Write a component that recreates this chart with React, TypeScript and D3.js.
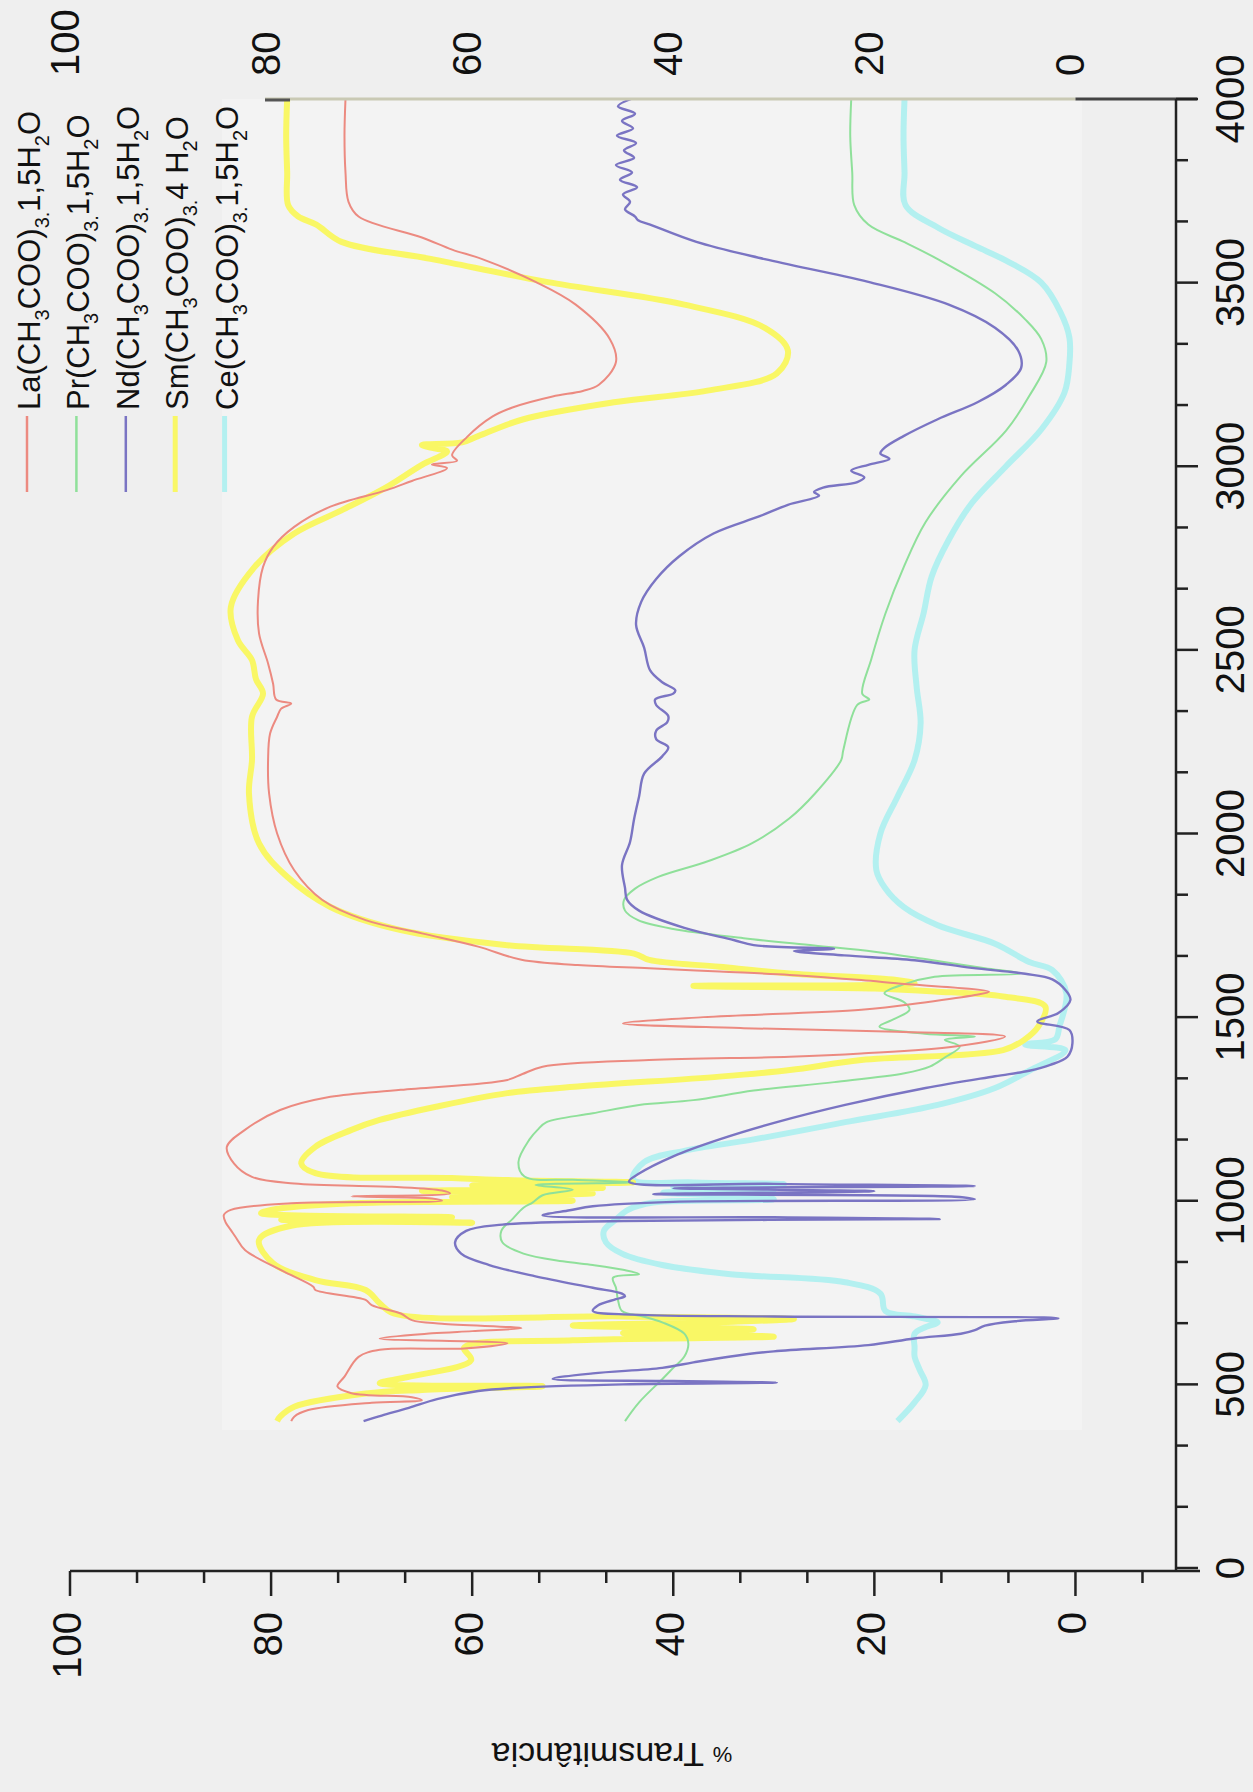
import { useRef, useEffect } from 'react';
import * as d3 from 'd3';

type Pt = [number, number]; // [wavenumber (cm-1), % transmittance]

const WIDTH = 1253;
const HEIGHT = 1792;

const laData: Pt[] = [
  [4000, 72.6], [3900, 72.7], [3800, 72.6], [3720, 72.3], [3680, 71.3], [3623, 65], [3590, 62], [3564, 59],
  [3502, 53.7], [3440, 49.7], [3346, 46.3], [3284, 45.7], [3222, 47.4], [3205, 49], [3190, 52], [3160, 56],
  [3135, 58], [3080, 60.5], [3030, 62], [3015, 61.5], [3005, 64], [2995, 62.5], [2960, 66], [2935, 68.5],
  [2890, 74.1], [2835, 77.7], [2780, 79.8], [2726, 80.8], [2635, 81.3], [2545, 81.2], [2463, 80.3], [2408, 79.8],
  [2365, 79.5], [2354, 78], [2340, 79], [2318, 79.4], [2272, 80.1], [2200, 80.3], [2109, 80.2], [2000, 79.4],
  [1900, 77.7], [1819, 74.9], [1764, 70.6], [1728, 65], [1692, 59.4], [1656, 55.1], [1642, 49.5], [1633, 42.4],
  [1624, 35.4], [1615, 28.4], [1601, 21.3], [1592, 17.8], [1569, 8.6], [1560, 10], [1540, 15], [1520, 21.3],
  [1500, 37], [1483, 45], [1470, 33], [1460, 17.8], [1447, 7], [1420, 12], [1401, 21.3], [1392, 28.4],
  [1383, 42.4], [1365, 53], [1345, 55], [1329, 56.5], [1302, 67.1], [1283, 74.1], [1247, 79.1], [1193, 82.6],
  [1147, 84.4], [1102, 83.7], [1065, 81.9], [1047, 77.7], [1038, 68], [1028, 63], [1020, 62.2], [1012, 72],
  [1006, 64], [1000, 63], [993, 78], [975, 84], [961, 84.7], [940, 84.5], [920, 84], [900, 83.5], [866, 82.6],
  [811, 79], [766, 75.8], [757, 75.6], [730, 70.6], [716, 70], [693, 67.1], [675, 66], [665, 63], [653, 55.1],
  [645, 60], [639, 64], [625, 69.2], [612, 56.5], [598, 60.8], [594, 69.2], [575, 71.3], [521, 72.7],
  [494, 73.4], [476, 72], [465, 66], [457, 65], [450, 70], [430, 76.3], [412, 77.7], [400, 78],
];

const prData: Pt[] = [
  [4000, 22.3], [3900, 22.4], [3800, 22.2], [3711, 22], [3658, 20.6], [3610, 17], [3564, 13.7], [3471, 8],
  [3400, 5], [3346, 3.4], [3284, 2.9], [3191, 4.6], [3097, 6.9], [2973, 11.4], [2848, 14.9], [2724, 17.1],
  [2599, 18.9], [2475, 20.3], [2380, 21.2], [2365, 20.5], [2350, 21.7], [2226, 23.1], [2200, 23.3], [2109, 25.9],
  [2040, 28.5], [1973, 32.2], [1925, 36.5], [1882, 41.5], [1850, 43.8], [1819, 44.9], [1790, 44.8], [1764, 43.5],
  [1740, 40], [1715, 33], [1695, 26], [1678, 20], [1656, 14.5], [1633, 9], [1619, 5.5], [1610, 14], [1590, 17],
  [1565, 19], [1540, 17], [1520, 16.5], [1495, 18], [1474, 19.5], [1455, 15], [1447, 10], [1438, 13],
  [1420, 11.5], [1390, 13], [1365, 14.5], [1347, 17], [1323, 24], [1300, 32], [1274, 38], [1261, 43.4],
  [1238, 48], [1214, 52.6], [1193, 53.5], [1167, 54.3], [1105, 55.4], [1066, 54.8], [1057, 50], [1050, 44],
  [1043, 53.7], [1030, 50], [1015, 53], [995, 54], [981, 54.9], [950, 56], [918, 57.1], [887, 57], [856, 54.9],
  [835, 51], [825, 48], [812, 45], [800, 43.4], [790, 46], [763, 45.7], [730, 45.5], [700, 45.1], [685, 43],
  [669, 41.1], [638, 38.9], [610, 38.5], [576, 38.9], [545, 40], [514, 41.1], [451, 43.4], [400, 44.8],
];

const ndData: Pt[] = [
  [4000, 44.2], [3980, 45.5], [3960, 43.8], [3940, 45.1], [3920, 44], [3900, 45.6], [3880, 43.7], [3860, 44.9],
  [3840, 43.9], [3820, 45.7], [3800, 44.1], [3780, 45.3], [3760, 43.6], [3740, 45], [3720, 44.3], [3700, 44.8],
  [3680, 43.8], [3670, 43.5], [3658, 42.3], [3611, 37.7], [3564, 30.9], [3502, 20.6],
  [3440, 12.6], [3377, 8], [3315, 5.7], [3268, 5.4], [3222, 6.9], [3175, 9.7], [3128, 13.7], [3082, 17.1],
  [3050, 19], [3035, 19.4], [3020, 18.5], [3004, 20.6], [2988, 22.3], [2970, 21], [2957, 21.7], [2942, 25.1],
  [2930, 26], [2920, 25.5], [2895, 28.6], [2864, 31.4], [2817, 36], [2755, 39.4], [2693, 41.7], [2630, 43.2],
  [2568, 43.7], [2506, 42.9], [2444, 42.3], [2412, 41.1], [2390, 39.8], [2381, 40], [2365, 41.8], [2350, 41.7],
  [2320, 40.5], [2303, 40.6], [2280, 41.7], [2257, 41.7], [2235, 40.5], [2210, 41.1], [2163, 42.9], [2101, 43.4],
  [2039, 43.9], [1977, 44.3], [1914, 45.1], [1852, 44.8], [1820, 44.6], [1790, 43.4], [1743, 38.9], [1710, 34],
  [1696, 32], [1686, 24], [1680, 28], [1668, 23], [1655, 16], [1634, 10.3], [1618, 5], [1603, 2.3], [1574, 1],
  [1547, 0.5], [1511, 1.7], [1488, 3.8], [1465, 0.6], [1429, 0.3], [1392, 0.8], [1370, 2.5], [1354, 4.6],
  [1339, 8], [1307, 14.9], [1261, 22.9], [1214, 29.7], [1167, 35.4], [1121, 40], [1074, 43.4], [1052, 44.4],
  [1046, 30], [1040, 10], [1034, 40], [1026, 20], [1018, 42], [1011, 12], [1004, 10], [997, 40], [985, 48],
  [974, 50.3], [960, 53], [955, 30], [950, 13.5], [945, 45], [935, 57], [918, 60.6], [887, 61.7], [856, 61.1],
  [825, 58.3], [794, 53.7], [763, 48], [747, 45.1], [740, 44.8], [732, 45.7], [715, 47.5], [700, 48], [690, 44],
  [685, 30], [680, 1.7], [672, 6], [660, 9], [648, 10], [638, 11.4], [625, 16], [607, 20.6], [590, 30],
  [576, 34.3], [560, 38], [545, 41.1], [530, 48], [515, 52], [509, 40], [505, 29.7], [500, 45], [490, 56],
  [482, 59.4], [460, 63.5], [436, 66.3], [415, 69], [400, 70.8],
];

const smData: Pt[] = [
  [4000, 78.4], [3900, 78.5], [3800, 78.4], [3711, 78.3], [3680, 77.3], [3658, 75.5], [3611, 73], [3564, 64],
  [3502, 52.6], [3440, 38.9], [3377, 30.9], [3315, 28.6], [3253, 29.7], [3206, 36.6], [3175, 45.7], [3128, 54.9],
  [3082, 59.4], [3065, 61], [3058, 65], [3050, 64], [3040, 62.5], [3004, 65], [2942, 68.6], [2880, 73],
  [2817, 77.7], [2724, 81.7], [2617, 84], [2526, 83.3], [2472, 81.9], [2420, 81.5], [2381, 80.8], [2318, 81.9],
  [2200, 81.9], [2109, 82.2], [1973, 81.2], [1882, 78.4], [1800, 74.1], [1737, 67.1], [1696, 56.5], [1673, 43.9],
  [1656, 42.4], [1637, 35.4], [1619, 28.4], [1601, 17.8], [1592, 16], [1585, 38], [1578, 20], [1570, 14],
  [1556, 7.2], [1529, 3], [1474, 3.7], [1438, 5.1], [1410, 7.2], [1383, 21.3], [1356, 28.4], [1338, 35.4],
  [1311, 49.5], [1293, 56.5], [1256, 63.6], [1220, 69.2], [1193, 72], [1147, 75.6], [1102, 77], [1075, 75.6],
  [1062, 62], [1056, 56], [1050, 44], [1042, 60], [1035, 47], [1027, 65], [1020, 48], [1010, 62], [1000, 50],
  [993, 72], [975, 80], [966, 81], [955, 62], [948, 79], [940, 60], [932, 78], [893, 81.2], [830, 79.8],
  [784, 75.6], [757, 70.6], [721, 69.2], [693, 67.8], [685, 45], [678, 28], [670, 35], [660, 50], [650, 32],
  [640, 45], [630, 30], [620, 50], [600, 60.8], [566, 60.1], [520, 66.4], [503, 69.2], [495, 53], [485, 65],
  [475, 70.6], [439, 77.7], [412, 79.1], [400, 79.4],
];

const ceData: Pt[] = [
  [4000, 17], [3900, 17.1], [3800, 17], [3711, 16.9], [3650, 13.7], [3600, 10], [3560, 6.9], [3500, 3.4],
  [3420, 1.5], [3350, 0.6], [3280, 0.6], [3200, 1.1], [3100, 3.4], [3000, 6.9], [2900, 10.3], [2800, 12.6],
  [2700, 14.3], [2600, 15.1], [2500, 16], [2400, 15.8], [2300, 15.4], [2200, 16], [2100, 17.7], [2000, 19.4],
  [1900, 19.8], [1850, 18.9], [1800, 17.1], [1750, 13.7], [1700, 8], [1650, 4.6], [1628, 2.3], [1565, 0.9],
  [1474, 1.6], [1440, 2], [1425, 5], [1410, 1], [1354, 4.6], [1307, 8], [1261, 13.7], [1214, 22.9], [1167, 32],
  [1136, 38.9], [1105, 42.9], [1058, 44], [1050, 38], [1045, 29], [1038, 40], [1030, 30], [1022, 41],
  [1012, 32], [1004, 30], [995, 42], [975, 44.5], [949, 45.7], [918, 46.9], [887, 46.7], [856, 45.1],
  [825, 41.1], [800, 34.3], [778, 22.9], [747, 19.4], [700, 18.9], [685, 16], [669, 13.7], [655, 15],
  [638, 16], [600, 16], [576, 16], [540, 15.5], [498, 14.9], [451, 16], [400, 17.7],
];

// legend texts, {..} = subscript
const legendLabels = [
  'La(CH{3}COO){3.}1,5H{2}O',
  'Pr(CH{3}COO){3.}1,5H{2}O',
  'Nd(CH{3}COO){3.}1,5H{2}O',
  'Sm(CH{3}COO){3.}4 H{2}O',
  'Ce(CH{3}COO){3.}1,5H{2}O',
];

const wavenumberTicks = [0, 500, 1000, 1500, 2000, 2500, 3000, 3500, 4000];
const transmittanceTicks = [100, 80, 60, 40, 20, 0];

const FONT = "'Liberation Sans', Arial, Helvetica, sans-serif";

export default function App() {
  const svgRef = useRef<SVGSVGElement>(null);

  useEffect(() => {
    if (!svgRef.current) return;
    const svg = d3.select(svgRef.current);
    svg.selectAll('*').remove();

    // the chart is printed turned by 90 degrees: wavenumber runs upward, transmittance leftward
    const x = d3.scaleLinear().domain([100, -10]).range([70, 1176]);
    const y = d3.scaleLinear().domain([0, 4000]).range([1568, 99]);

    svg.append('rect').attr('width', WIDTH).attr('height', HEIGHT).attr('fill', '#efefef');
    // lighter pasted panel of the spectra
    svg.append('rect')
      .attr('x', 222).attr('y', 99).attr('width', 860).attr('height', 1331)
      .attr('fill', '#f3f3f3');

    const series = [
      { data: ceData, color: '#b3f0f0', width: 6 },
      { data: smData, color: '#f9f765', width: 6 },
      { data: prData, color: '#8fe09a', width: 2 },
      { data: ndData, color: '#7a74c3', width: 2.4 },
      { data: laData, color: '#ec8a80', width: 2 },
    ];

    const line = d3.line<Pt>()
      .x(d => x(d[1]))
      .y(d => y(d[0]))
      .curve(d3.curveCatmullRom.alpha(0.5));

    series.forEach(s => {
      svg.append('path')
        .attr('d', line(s.data) || '')
        .attr('fill', 'none')
        .attr('stroke', s.color)
        .attr('stroke-width', s.width)
        .attr('stroke-linejoin', 'round');
    });

    // top border of the panel
    svg.append('line').attr('x1', 265).attr('x2', x(0)).attr('y1', 99).attr('y2', 99)
      .attr('stroke', '#c9c9b4').attr('stroke-width', 3);
    svg.append('line').attr('x1', 265).attr('x2', 290).attr('y1', 100).attr('y2', 100)
      .attr('stroke', '#555').attr('stroke-width', 3);
    svg.append('line').attr('x1', x(0)).attr('x2', 1197).attr('y1', 99).attr('y2', 99)
      .attr('stroke', '#444').attr('stroke-width', 3);

    // bottom (transmittance) axis
    const axisY = 1571;
    const axis = svg.append('g').attr('stroke', '#222').attr('stroke-width', 2.5);
    axis.append('line').attr('x1', 70).attr('x2', 1200).attr('y1', axisY).attr('y2', axisY);
    d3.range(100, -10.01, -20 / 3).forEach((v, i) => {
      const major = i % 3 === 0;
      axis.append('line')
        .attr('x1', x(v)).attr('x2', x(v))
        .attr('y1', axisY).attr('y2', axisY + (major ? 25 : 12));
    });

    // right (wavenumber) axis
    const axisX = 1176;
    axis.append('line').attr('x1', axisX).attr('x2', axisX).attr('y1', 99).attr('y2', axisY);
    d3.range(0, 4000.1, 500 / 3).forEach((v, i) => {
      const major = i % 3 === 0;
      axis.append('line')
        .attr('x1', axisX).attr('x2', axisX + (major ? 22 : 12))
        .attr('y1', y(v)).attr('y2', y(v));
    });

    const labels = svg.append('g')
      .attr('font-family', FONT).attr('font-size', 40).attr('fill', '#111');

    wavenumberTicks.forEach(v => {
      labels.append('text')
        .attr('transform', `translate(1230,${y(v)}) rotate(-90)`)
        .attr('text-anchor', 'middle')
        .attr('dominant-baseline', 'central')
        .text(v);
    });

    transmittanceTicks.forEach(v => {
      labels.append('text')
        .attr('transform', `translate(${x(v) - 3},1612) rotate(-90)`)
        .attr('text-anchor', 'end')
        .attr('dominant-baseline', 'central')
        .text(v);
      labels.append('text')
        .attr('transform', `translate(${x(v) - 5},76) rotate(-90)`)
        .attr('text-anchor', 'start')
        .attr('dominant-baseline', 'central')
        .text(v);
    });

    // axis title, upside down
    const title = svg.append('text')
      .attr('transform', 'translate(612,1755) rotate(180)')
      .attr('text-anchor', 'middle')
      .attr('dominant-baseline', 'central')
      .attr('font-family', FONT).attr('fill', '#111');
    title.append('tspan').attr('font-size', 22).text('%');
    title.append('tspan').attr('font-size', 34).text(' Transmitância');

    // legend
    const legendColors = ['#ec8a80', '#8fe09a', '#7a74c3', '#f9f765', '#b3f0f0'];
    const legendWidths = [2.5, 2.5, 2.5, 5, 5];
    legendLabels.forEach((lab, i) => {
      const bx = 40 + i * 49.4;
      svg.append('line')
        .attr('x1', bx - 13).attr('x2', bx - 13).attr('y1', 416).attr('y2', 492)
        .attr('stroke', legendColors[i]).attr('stroke-width', legendWidths[i]);
      const t = svg.append('text')
        .attr('transform', `translate(${bx},410) rotate(-90)`)
        .attr('font-family', FONT).attr('font-size', 31).attr('fill', '#111');
      let shifted = false;
      lab.split(/(\{[^}]*\})/).filter(p => p.length > 0).forEach(part => {
        const sub = part.startsWith('{');
        const txt = sub ? part.slice(1, -1) : part;
        const span = t.append('tspan').text(txt);
        if (sub && !shifted) { span.attr('dy', 9).attr('font-size', 20); shifted = true; }
        else if (sub) { span.attr('font-size', 20); }
        else if (shifted) { span.attr('dy', -9); shifted = false; }
      });
    });
  }, []);

  return (
    <div style={{ position: 'absolute', left: 0, top: 0 }}>
      <svg ref={svgRef} width={WIDTH} height={HEIGHT} style={{ display: 'block' }} />
    </div>
  );
}
